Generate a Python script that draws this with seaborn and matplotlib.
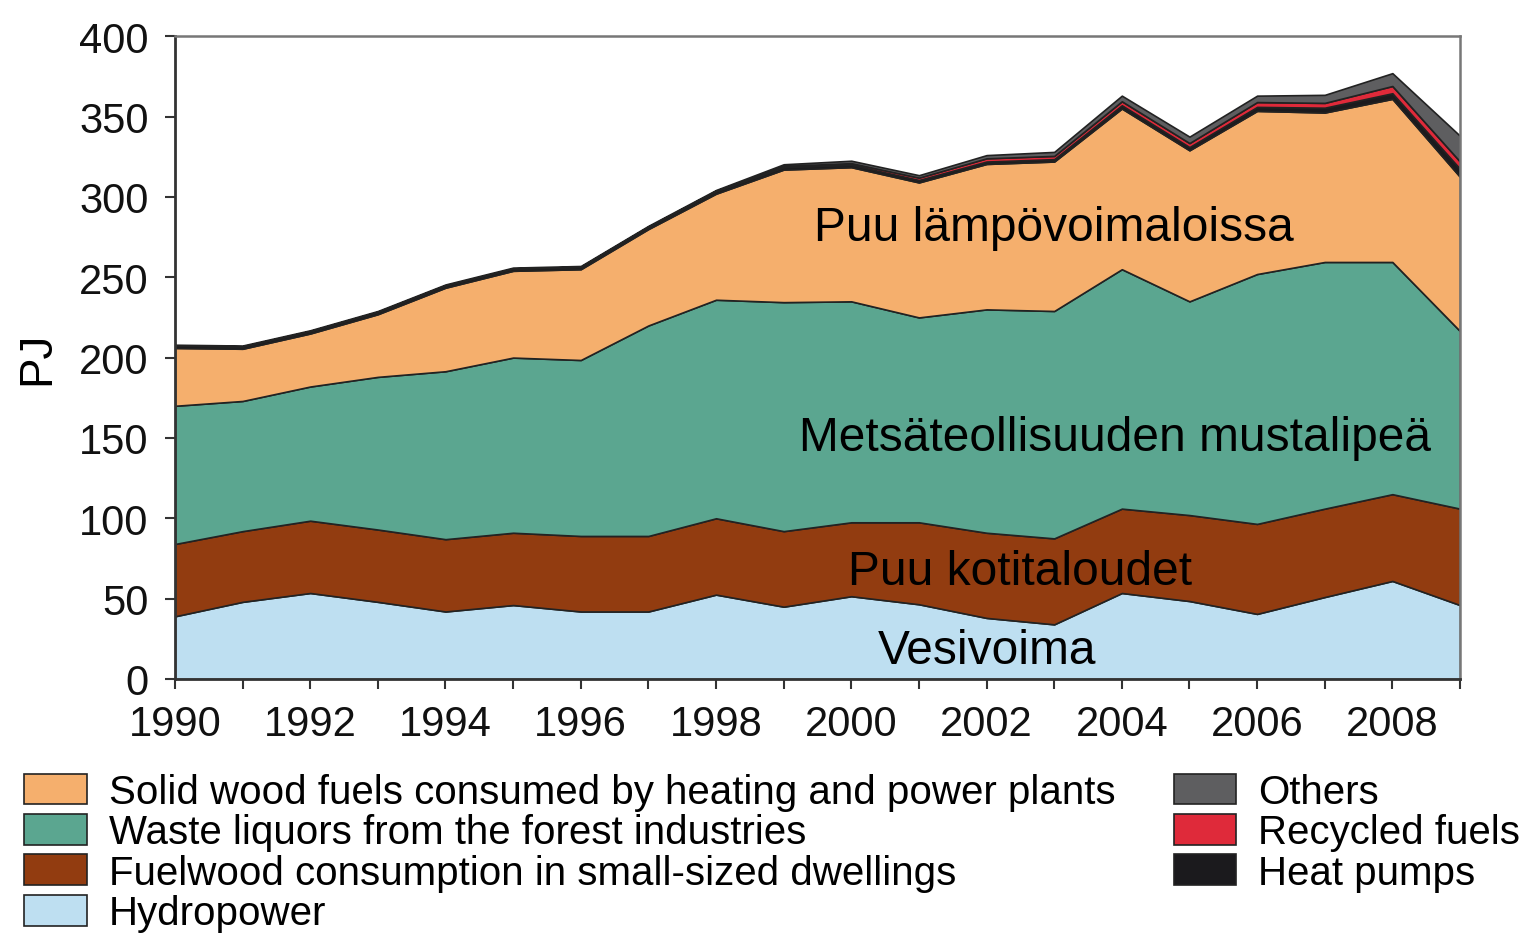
import matplotlib
matplotlib.use("Agg")
import matplotlib.pyplot as plt
import seaborn as sns
from matplotlib import font_manager

years = list(range(1990, 2010))

hydropower = [39, 48, 53.5, 48, 42, 46, 42, 42, 52.5, 45, 51.5, 46.5, 38, 34, 53.5, 48.5, 40.5, 51, 61, 46]
fuelwood = [45, 44, 45, 45, 45, 45, 47, 47, 47.5, 47, 46, 51, 53, 53.5, 52.5, 53.5, 56, 55, 54, 60]
waste_liquors = [86, 81, 83.5, 95, 104.5, 109, 109.5, 131, 136, 142.5, 137.5, 127.5, 139, 141.5, 149, 133, 155.5, 153.5, 144.5, 110.5]
solid_wood = [36, 32.5, 33, 39, 52, 54, 56.5, 60, 66, 82.5, 83.5, 84, 90.5, 93, 100, 94, 101.5, 93, 101.5, 96]
heat_pumps = [1.5, 1.5, 1.5, 1.5, 1.5, 1.5, 1.5, 1.5, 1.5, 1.5, 1.5, 1.5, 1.5, 1.5, 2, 2, 2.5, 3, 3.5, 5]
recycled = [0, 0, 0, 0, 0, 0, 0, 0, 0.3, 0.8, 1, 1.5, 2, 2, 2.5, 2.5, 3, 3, 4.5, 4.5]
others = [0.5, 0.5, 0.5, 0.5, 0.5, 0.5, 0.5, 0.5, 0.5, 1, 1.5, 1.5, 2, 2.5, 3.5, 4, 4, 5, 8, 16]

labels_left = ["Solid wood fuels consumed by heating and power plants",
               "Waste liquors from the forest industries",
               "Fuelwood consumption in small-sized dwellings",
               "Hydropower"]
labels_right = ["Others", "Recycled fuels", "Heat pumps"]

area_texts = ["Puu lämpövoimaloissa", "Metsäteollisuuden mustalipeä", "Puu kotitaloudet", "Vesivoima"]
text_x = [2003.0, 2003.9, 2002.5, 2002.0]
text_y = [281, 150.5, 66.6, 18]

c_hydro = "#bedff1"
c_fuel = "#923c10"
c_waste = "#5ba690"
c_solid = "#f5af6d"
c_heat = "#1b1a1d"
c_recyc = "#df2a3a"
c_other = "#5e5e60"

sns.set_theme(style="ticks")

try:
    font_manager.findfont("Liberation Sans Narrow", fallback_to_default=False)
    narrow = ["Liberation Sans Narrow", "DejaVu Sans"]
except Exception:
    narrow = ["Liberation Sans", "DejaVu Sans"]
plt.rcParams["font.family"] = ["Liberation Sans", "DejaVu Sans"]
plt.rcParams["text.color"] = "black"
plt.rcParams["axes.labelcolor"] = "black"

fig = plt.figure(figsize=(15.28, 9.37), dpi=100)
ax = fig.add_axes([0.1145, 0.2743, 0.841, 0.686])

polys = ax.stackplot(years, hydropower, fuelwood, waste_liquors, solid_wood, heat_pumps, recycled, others,
                     colors=[c_hydro, c_fuel, c_waste, c_solid, c_heat, c_recyc, c_other],
                     edgecolor="#222222", linewidth=1.2)

ax.set_xlim(1990, 2009)
ax.set_ylim(0, 400)
ax.set_xticks(years)
ax.set_xticklabels([str(y) if y % 2 == 0 else "" for y in years])
ax.set_yticks(range(0, 401, 50))
ax.tick_params(axis="both", direction="out", length=7, width=1.5, color="#333333", labelsize=30, labelcolor="#111111")
ax.tick_params(axis="y", pad=12)
ax.tick_params(axis="x", pad=11)
for lab in ax.get_xticklabels() + ax.get_yticklabels():
    lab.set_family(narrow)

for s in ["left", "bottom"]:
    ax.spines[s].set_color("#333333")
    ax.spines[s].set_linewidth(2)
for s in ["top", "right"]:
    ax.spines[s].set_color("#777777")
    ax.spines[s].set_linewidth(1.8)

ax.set_ylabel("PJ", fontsize=33, labelpad=14)

for t, x, y in zip(area_texts, text_x, text_y):
    ax.text(x, y, t, fontsize=34.5, ha="center", va="center", color="black")

# legend split in two columns like the original
h_left = [polys[3], polys[2], polys[1], polys[0]]
h_right = [polys[6], polys[5], polys[4]]
leg_kw = dict(frameon=False, handlelength=1.55, handleheight=0.8,
              handletextpad=0.55, labelspacing=0.06, borderpad=0, borderaxespad=0,
              prop={"family": narrow, "size": 29}, labelcolor="black")
fig.legend(h_left, labels_left, loc="upper left", bbox_to_anchor=(0.016, 0.174), **leg_kw)
fig.legend(h_right, labels_right, loc="upper left", bbox_to_anchor=(0.768, 0.174), **leg_kw)

fig.savefig("out.png", dpi=100)
